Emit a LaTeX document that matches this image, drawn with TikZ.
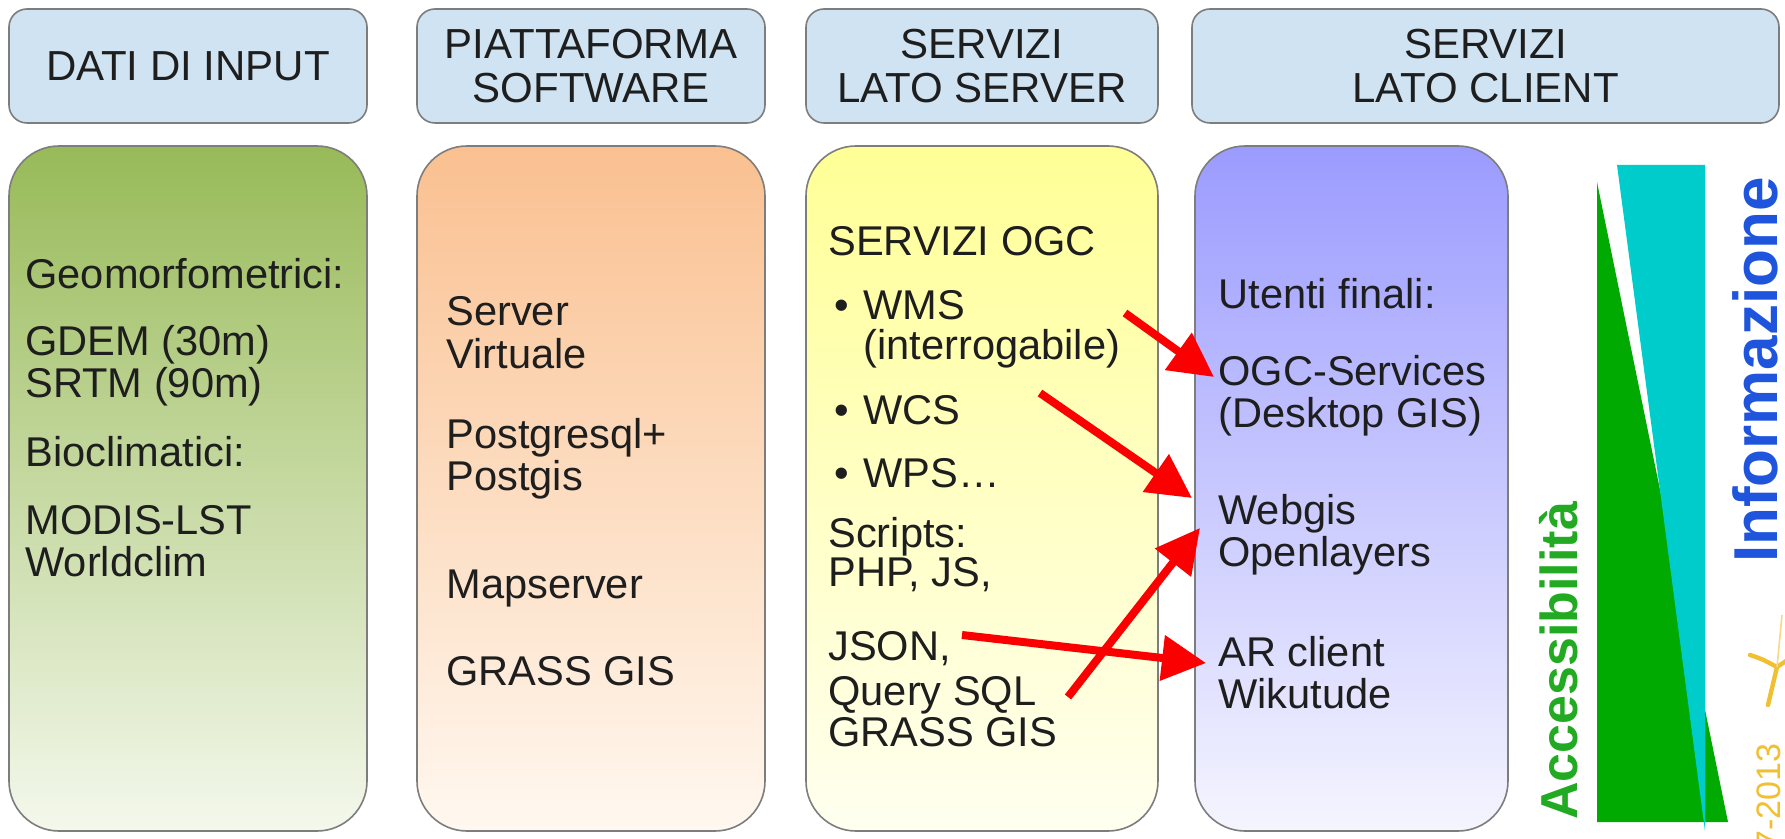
\documentclass[tikz,border=0pt]{standalone}
\usepackage{fontspec}
\setmainfont{Liberation Sans}
\usetikzlibrary{arrows.meta}
\definecolor{hdrfill}{RGB}{207,227,242}
\definecolor{boxline}{RGB}{125,125,125}
\definecolor{txtcol}{RGB}{30,30,30}
\definecolor{gtop}{RGB}{152,186,88}
\definecolor{gbot}{RGB}{244,248,236}
\definecolor{otop}{RGB}{250,192,144}
\definecolor{obot}{RGB}{255,248,240}
\definecolor{ytop}{RGB}{255,255,150}
\definecolor{ybot}{RGB}{255,255,240}
\definecolor{btop}{RGB}{155,155,255}
\definecolor{bbot}{RGB}{245,245,255}
\definecolor{trigreen}{RGB}{0,170,0}
\definecolor{tricyan}{RGB}{0,204,204}
\definecolor{accgreen}{RGB}{34,170,34}
\definecolor{infblue}{RGB}{30,85,220}
\definecolor{logoyel}{RGB}{240,192,50}
\definecolor{arrred}{RGB}{250,0,0}
\tikzset{
  hdr/.style={draw=boxline, line width=0.8pt, fill=hdrfill, rounded corners=9pt,
    minimum height=57pt, align=center, text=txtcol,
    font=\fontsize{21}{21.6}\selectfont},
  colbox/.style={draw=boxline, line width=0.8pt, rounded corners=25pt,
    minimum height=342.5pt},
  txt/.style={anchor=base west, inner sep=0pt, text=txtcol,
    font=\fontsize{20.8}{24}\selectfont},
  redarrow/.style={draw=arrred, line width=4pt,
    -{Triangle[length=22pt,width=22pt]}},
  logostroke/.style={draw=logoyel, line width=2.2pt, line cap=round}
}
\begin{document}
\begin{tikzpicture}[x=0.5pt,y=-0.5pt]
\useasboundingbox (0,0) rectangle (1785,839);
\fill[white] (0,0) rectangle (1785,839);

% headers
\node[hdr, minimum width=179pt] (h1) at (188,66) {DATI DI INPUT};
\node[hdr, minimum width=174pt] (h2) at (591,66) {PIATTAFORMA\\SOFTWARE};
\node[hdr, minimum width=176pt] (h3) at (982,66) {SERVIZI\\LATO SERVER};
\node[hdr, minimum width=293.5pt] (h4) at (1485.5,66) {SERVIZI\\LATO CLIENT};

% column boxes
\node[colbox, minimum width=179pt, top color=gtop, bottom color=gbot] (c1) at (188,488.5) {};
\node[colbox, minimum width=174pt, top color=otop, bottom color=obot] (c2) at (591,488.5) {};
\node[colbox, minimum width=176pt, top color=ytop, bottom color=ybot] (c3) at (982,488.5) {};
\node[colbox, minimum width=156.5pt, top color=btop, bottom color=bbot] (c4) at (1351.5,488.5) {};

% column 1
\node[txt] (g1) at (25,289) {Geomorfometrici:};
\node[txt] (g2) at (25,356) {GDEM (30m)};
\node[txt] (g3) at (25,398) {SRTM (90m)};
\node[txt] (g4) at (25,467) {Bioclimatici:};
\node[txt] (g5) at (25,535) {MODIS-LST};
\node[txt] (g6) at (25,577) {Worldclim};

% column 2
\node[txt] (p1) at (446,326) {Server};
\node[txt] (p2) at (446,369) {Virtuale};
\node[txt] (p3) at (446,449) {Postgresql+};
\node[txt] (p4) at (446,491) {Postgis};
\node[txt] (p5) at (446,599) {Mapserver};
\node[txt] (p6) at (446,686) {GRASS GIS};

% column 3
\node[txt] (s1) at (828,256) {SERVIZI OGC};
\node[txt] (s2) at (834,320) {\makebox[14.5pt][l]{•}WMS};
\node[txt] (s3) at (863,360) {(interrogabile)};
\node[txt] (s4) at (834,425) {\makebox[14.5pt][l]{•}WCS};
\node[txt] (s5) at (834,488) {\makebox[14.5pt][l]{•}WPS…};
\node[txt] (s6) at (828,548) {Scripts:};
\node[txt] (s7) at (828,587) {PHP, JS,};
\node[txt] (s8) at (828,661) {JSON,};
\node[txt] (s9) at (828,705) {Query SQL};
\node[txt] (s10) at (828,747) {GRASS GIS};

% column 4
\node[txt] (u1) at (1218,309) {Utenti finali:};
\node[txt] (u2) at (1218,386) {OGC-Services};
\node[txt] (u3) at (1218,428) {(Desktop GIS)};
\node[txt] (u4) at (1218,525) {Webgis};
\node[txt] (u5) at (1218,567) {Openlayers};
\node[txt] (u6) at (1218,667) {AR client};
\node[txt] (u7) at (1218,709) {Wikutude};

% arrows
\coordinate (a1s) at (1125,313); \coordinate (a1e) at (1214,377);
\coordinate (a2s) at (1040,393); \coordinate (a2e) at (1192,498);
\coordinate (a3s) at (1068,697); \coordinate (a3e) at (1200,528);
\coordinate (a4s) at (962,635);  \coordinate (a4e) at (1206,663);
\draw[redarrow] (a1s) -- (a1e);
\draw[redarrow] (a2s) -- (a2e);
\draw[redarrow] (a3s) -- (a3e);
\draw[redarrow] (a4s) -- (a4e);

% triangles
\fill[trigreen] (1597,182) -- (1597,822) -- (1728,822) -- cycle;
\fill[tricyan] (1617,165) -- (1705,165) -- (1705,831) -- cycle;

% rotated labels
\node[rotate=90, anchor=base, inner sep=0pt, text=accgreen,
  font=\bfseries\fontsize{26}{26}\selectfont] (acc) at (1577,661) {Accessibilità};
\node[rotate=90, anchor=base, inner sep=0pt, text=infblue,
  font=\bfseries\fontsize{31}{31}\selectfont] (inf) at (1777,370) {Informazione};
\node[rotate=90, anchor=base east, inner sep=0pt, text=logoyel,
  font=\fontsize{17}{17}\selectfont] (yr) at (1780,743) {7-2013};

% logo fragment
\draw[logostroke] (1750,655) .. controls (1762,659) .. (1777,667);
\draw[logostroke] (1777,667) -- (1768,705);
\draw[logostroke] (1777,667) -- (1786,661);
\draw[draw=logoyel!60, line width=0.8pt] (1777,667) -- (1782,615);
\end{tikzpicture}
\end{document}
